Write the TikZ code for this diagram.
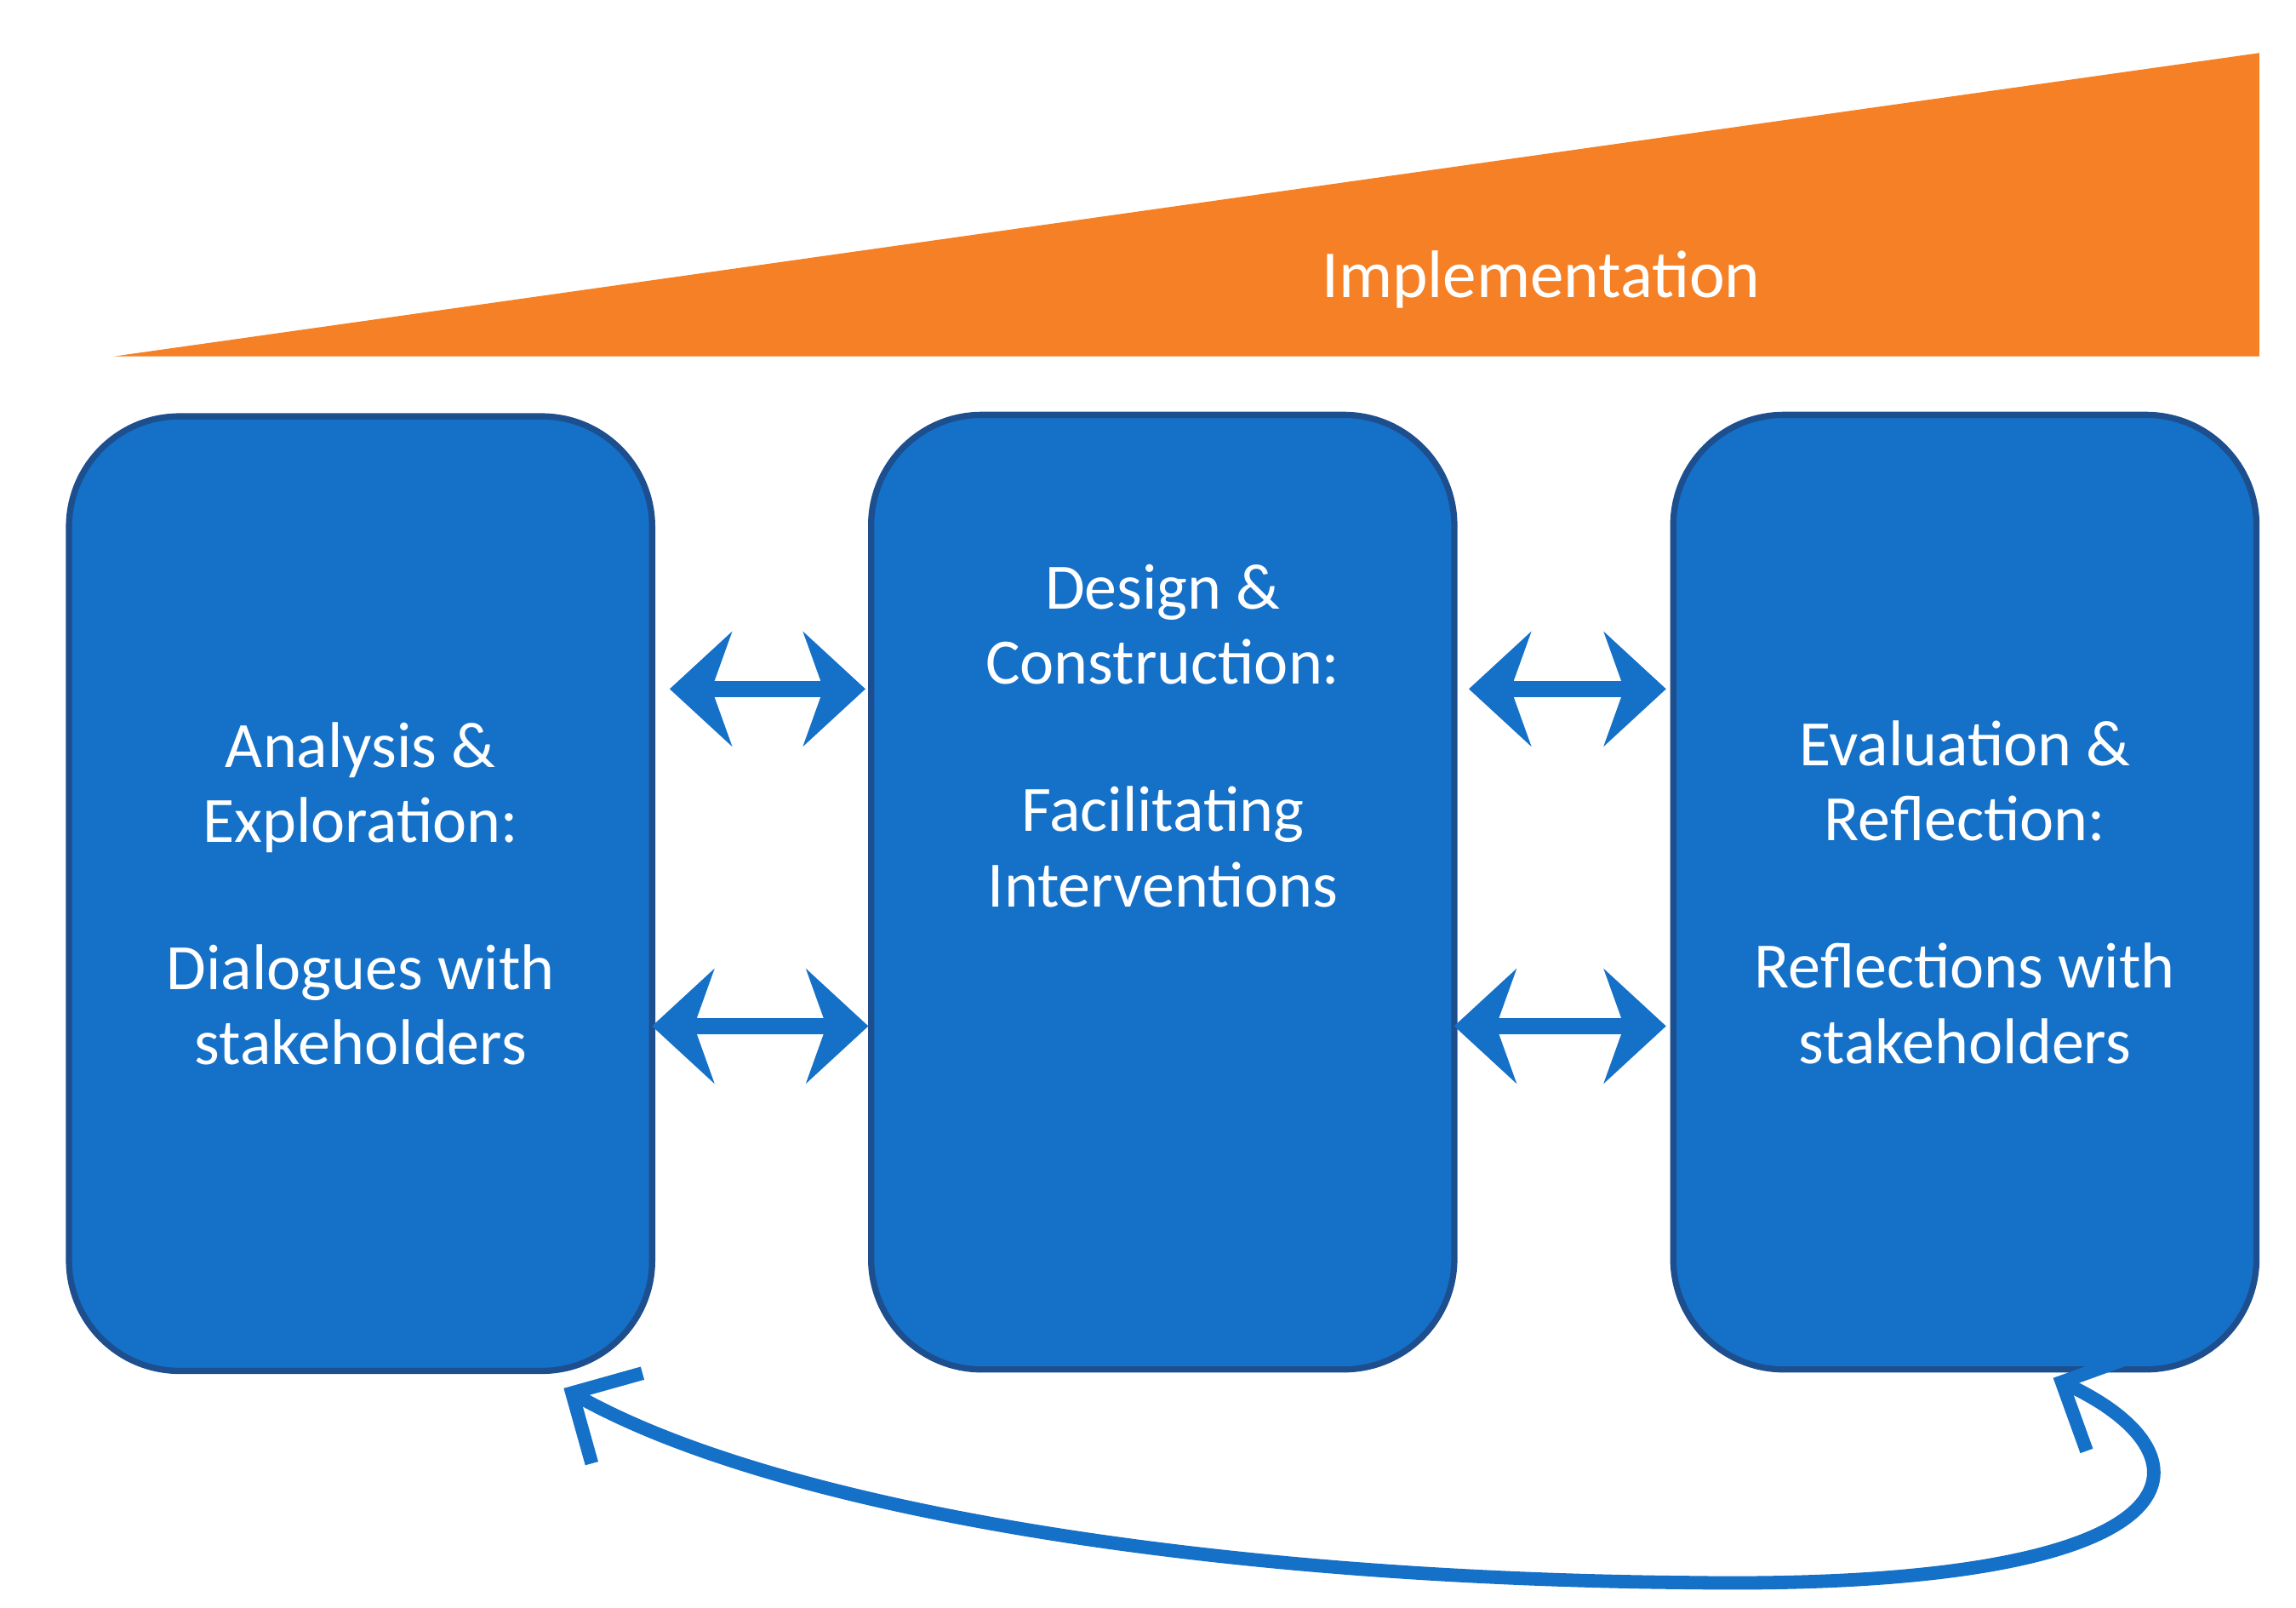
\documentclass[tikz,border=0pt]{standalone}
\usepackage{fontspec}
\setmainfont{Carlito}
\usetikzlibrary{arrows.meta}
\definecolor{bfill}{HTML}{1570C8}
\definecolor{bdraw}{HTML}{1D4F8F}
\definecolor{orng}{HTML}{F58025}
\begin{document}
\begin{tikzpicture}[x=0.01cm,y=-0.01cm,
 box/.style={draw=bdraw,line width=1.2pt,fill=bfill,rounded corners=0.75cm,minimum width=3.96cm,minimum height=6.48cm,text=white,align=center,font=\fontsize{12.5}{14.5}\selectfont},
 dbl/.style={bfill,line width=3.2pt,{Stealth[length=12pt,width=22pt]}-{Stealth[length=12pt,width=22pt]}},
 curv/.style={bfill,line width=2.6pt,{Straight Barb[length=10pt,width=20pt]}-{Straight Barb[length=10pt,width=20pt]}}]
\useasboundingbox (0,0) rectangle (1560,1092);
\fill[orng] (78,242) -- (1535,242) -- (1535,36) -- cycle;
\node[text=white,font=\fontsize{13}{15}\selectfont] (impl) at (1047,190) {Implementation};
\node[box] (a) at (245,607) {Analysis \&\\Exploration:\\[14pt]Dialogues with\\stakeholders};
\node[box] (b) at (790,606) {Design \&\\Construction:\\[14pt]Facilitating\\Interventions\\[46pt]\mbox{}};
\node[box] (c) at (1335,606) {Evaluation \&\\Reflection:\\[14pt]Reflections with\\stakeholders};
\coordinate (a1) at (455,468); \coordinate (b1) at (588,468);
\coordinate (b2) at (998,468); \coordinate (c1) at (1132,468);
\coordinate (a2) at (443,697); \coordinate (b3) at (590,697);
\coordinate (b4) at (988,697); \coordinate (c2) at (1132,697);
\draw[dbl] (a1) -- (b1);
\draw[dbl] (b2) -- (c1);
\draw[dbl] (a2) -- (b3);
\draw[dbl] (b4) -- (c2);
\coordinate (s) at (1395,936); \coordinate (e) at (383,943);
\draw[curv] (s) .. controls (1510,990) and (1500,1080) .. (1150,1075) .. controls (800,1072) and (520,1020) .. (e);
\end{tikzpicture}
\end{document}
